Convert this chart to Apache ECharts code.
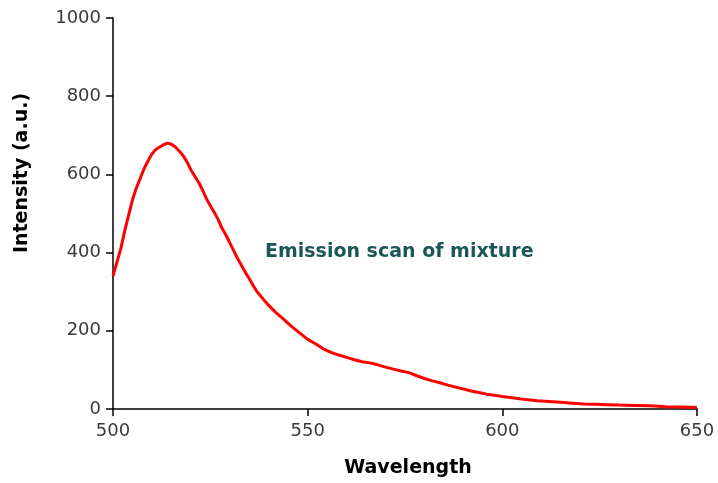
<!DOCTYPE html>
<html>
<head>
<meta charset="utf-8">
<script src="https://cdn.jsdelivr.net/npm/echarts@6/dist/echarts.min.js"></script>
<style>html,body{margin:0;padding:0;background:#fff}#c{width:718px;height:483px}</style>
</head>
<body>
<div id="c"></div>
<script>
var wavelength = [500,501,502,503,504,505,506,507,508,509,510,511,512,513,514,515,516,517,518,519,520,521,522,523,524,525,526,527,528,529,530,531,532,533,534,535,536,537,538,539,540,542,544,546,548,550,552,554,556,558,560,562,564,566,568,570,572,574,576,578,580,582,584,586,588,590,592,594,596,598,600,603,606,609,612,615,618,621,624,627,630,634,638,642,646,650];
var intensity = [340,375,410,455,495,535,565,590,615,635,652,664,670,676,680,677,670,660,648,632,612,595,580,560,538,520,503,485,462,445,425,405,385,367,350,333,316,300,288,276,265,245,228,210,194,178,167,154,145,138,132,126,121,118,113,107,102,97,93,85,78,72,67,61,56,51,46,42,38,35,32,28,24,21,19,17,15,13,12,11,10,9,8,6,5,4];
var xTicks = [500,550,600,650];
var yTicks = [0,200,400,600,800,1000];
var xTitle = 'Wavelength';
var yTitle = 'Intensity (a.u.)';
var note = 'Emission scan of mixture';

var chart = echarts.init(document.getElementById('c'));
var font = 'DejaVu Sans, Verdana, sans-serif';
chart.setOption({
  animation: false,
  grid: {left: 113, right: 21, top: 18, bottom: 74},
  xAxis: {
    type: 'value', min: xTicks[0], max: xTicks[xTicks.length-1], interval: 50,
    axisLine: {onZero: false, lineStyle: {color: '#000', width: 1.5}},
    axisTick: {show: true, length: 7, lineStyle: {color: '#000', width: 1.5}},
    splitLine: {show: false},
    axisLabel: {color: '#3a3a3a', fontSize: 18, fontFamily: font, margin: 13, formatter: function(v){return String(v);}}
  },
  yAxis: {
    type: 'value', min: yTicks[0], max: yTicks[yTicks.length-1], interval: 200,
    axisLine: {show: true, lineStyle: {color: '#000', width: 1.5}},
    axisTick: {show: true, length: 7, lineStyle: {color: '#000', width: 1.5}},
    splitLine: {show: false},
    axisLabel: {color: '#3a3a3a', fontSize: 18, fontFamily: font, margin: 12, formatter: function(v){return String(v);}}
  },
  graphic: [
    {type: 'text', x: 408, y: 468, style: {text: xTitle, font: 'bold 19px ' + font, fill: '#000', align: 'center', verticalAlign: 'middle'}},
    {type: 'text', x: 22, y: 173, rotation: Math.PI/2, style: {text: yTitle, font: 'bold 19px ' + font, fill: '#000', align: 'center', verticalAlign: 'middle'}},
    {type: 'text', x: 265, y: 252, style: {text: note, font: 'bold 19px ' + font, fill: '#1b5757', align: 'left', verticalAlign: 'middle'}}
  ],
  series: [{
    type: 'line', showSymbol: false, smooth: false,
    lineStyle: {color: '#ff0000', width: 3},
    data: wavelength.map(function(w, i){ return [w, intensity[i]]; })
  }]
});
</script>
</body>
</html>
